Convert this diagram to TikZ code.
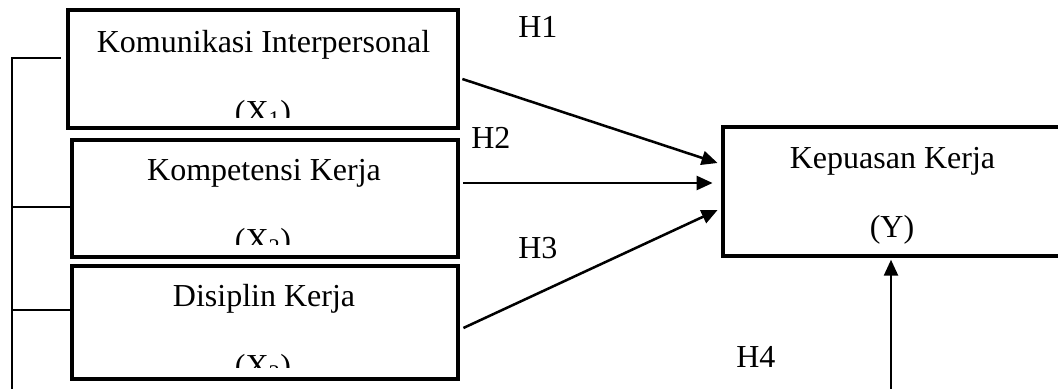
\documentclass[tikz,border=0pt]{standalone}
\usepackage{fontspec}
\setmainfont{Liberation Serif}
\usetikzlibrary{arrows.meta,calc}
\begin{document}
\begin{tikzpicture}[x=0.75pt,y=-0.75pt,
  box/.style={draw,line width=3.6pt,inner sep=0pt},
  lbl/.style={font=\fontsize{24}{28}\selectfont,anchor=base,inner sep=0pt},
  conn/.style={line width=1.6pt},
  arr/.style={line width=1.9pt,-{Triangle[length=12pt,width=10.5pt]}}]
\clip (0,0) rectangle (1058,389);
\fill[white] (0,0) rectangle (1058,389);
% boxes
\node[box,minimum width=292.5pt,minimum height=88.5pt] (b1) at (263,69) {};
\node[box,minimum width=289.5pt,minimum height=87.75pt] (b2) at (265,198.5) {};
\node[box,minimum width=289.5pt,minimum height=84.75pt] (b3) at (265,322.5) {};
\node[box,minimum width=271.5pt,minimum height=96.75pt] (y) at (904,191.5) {};
% box texts
\node[lbl] (t1) at (263.5,52) {Komunikasi Interpersonal};
\node[lbl] (t2) at (264,180) {Kompetensi Kerja};
\node[lbl] (t3) at (264,306) {Disiplin Kerja};
\begin{scope}
  \clip (70,90) rectangle (456,117);
  \node[lbl] (x1) at (263,122) {(X\textsubscript{1})};
\end{scope}
\begin{scope}
  \clip (74,215) rectangle (456,244);
  \node[lbl] (x2) at (263,250) {(X\textsubscript{2})};
\end{scope}
\begin{scope}
  \clip (74,340) rectangle (456,367);
  \node[lbl] (x3) at (263,376) {(X\textsubscript{3})};
\end{scope}
\node[lbl] (ty) at (892.5,168) {Kepuasan Kerja};
\node[lbl] (ty2) at (892,237) {(Y)};
% hypothesis labels
\node[lbl,anchor=base west] (h1) at (518,37) {H1};
\node[lbl,anchor=base west] (h2) at (471,148) {H2};
\node[lbl,anchor=base west] (h3) at (518,258) {H3};
\node[lbl,anchor=base west] (h4) at (736,367) {H4};
% left bracket
\coordinate (ltop) at (12,58);
\coordinate (lbot) at (12,395);
\coordinate (c1) at ($(b1.west)+(-5,-11)$);
\draw[conn] (lbot) -- (ltop) -- (c1);
\draw[conn] ($(ltop |- b2.west)+(0,8.5)$) -- ($(b2.west)+(0,8.5)$);
\draw[conn] ($(ltop |- b3.west)+(0,-12.5)$) -- ($(b3.west)+(0,-12.5)$);
% arrows
\draw[arr] ($(b1.east)+(2,10)$) -- ($(y.west)+(-3,-28.5)$);
\draw[arr] ($(b2.east)+(3,-15.5)$) -- ($(y.west)+(-8,-8.5)$);
\draw[arr] ($(b3.east)+(3,5.5)$) -- ($(y.west)+(-3,18.5)$);
\coordinate (h4s) at (891,395);
\draw[arr,shorten >=1pt] (h4s) -- (h4s |- y.south);
\end{tikzpicture}
\end{document}
